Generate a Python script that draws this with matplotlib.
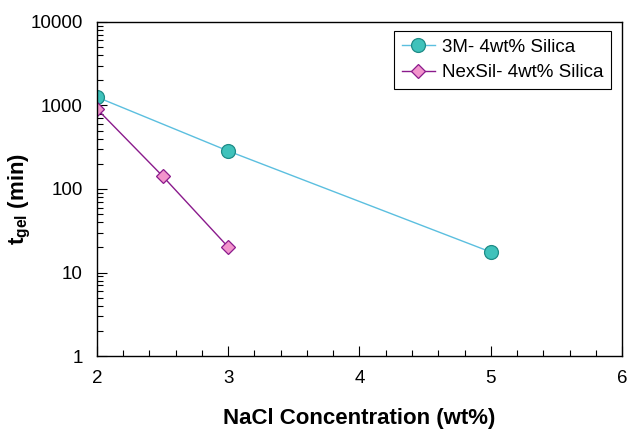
import numpy as np
import matplotlib.pyplot as plt
from matplotlib.ticker import MultipleLocator, LogLocator, NullFormatter, FixedLocator

plt.rcParams['font.family'] = ['Liberation Sans', 'DejaVu Sans']
plt.rcParams['mathtext.fontset'] = 'custom'
plt.rcParams['mathtext.rm'] = 'Liberation Sans'
plt.rcParams['mathtext.bf'] = 'Liberation Sans:bold'

# data
nacl_3m = [2, 3, 5]
tgel_3m = [1260, 285, 17.6]
nacl_nexsil = [2, 2.5, 3]
tgel_nexsil = [910, 143, 20.2]

labels = ["3M- 4wt% Silica", "NexSil- 4wt% Silica"]
yticks = [1, 10, 100, 1000, 10000]

fig = plt.figure(figsize=(6.29, 4.29), dpi=100)
ax = fig.add_axes([0.154, 0.170, 0.835, 0.779])

ax.plot(nacl_3m, tgel_3m, color="#5bbfdf", lw=1.0, marker="o", ms=10,
        mfc="#3fc2bb", mec="#1f8c87", mew=0.9, label=labels[0])
ax.plot(nacl_nexsil, tgel_nexsil, color="#8a1a8c", lw=1.0, marker="D", ms=7.5,
        mfc="#f294cc", mec="#8a1a8c", mew=0.9, label=labels[1])

ax.set_yscale("log")
ax.set_xlim(2, 6)
ax.set_ylim(1, 10000)
ax.xaxis.set_major_locator(MultipleLocator(1))
ax.xaxis.set_minor_locator(MultipleLocator(0.2))
ax.yaxis.set_major_locator(FixedLocator(yticks))
ax.set_yticklabels([str(v) for v in yticks])
ax.yaxis.set_minor_locator(LogLocator(base=10, subs=np.arange(2, 10)))
ax.yaxis.set_minor_formatter(NullFormatter())

ax.tick_params(which="both", direction="in", top=False, right=False,
               labelsize=13.5, width=0.8)
ax.tick_params(which="major", length=7)
ax.tick_params(which="minor", length=4)
ax.tick_params(axis="y", which="major", pad=10)
ax.tick_params(axis="x", which="major", pad=10)
for s in ax.spines.values():
    s.set_linewidth(1.0)

ax.set_xlabel("NaCl Concentration (wt%)", fontsize=16, fontweight="bold", labelpad=15)
ax.set_ylabel(r"$\mathbf{t_{gel}}$ (min)", fontsize=16, fontweight="bold")
ax.yaxis.set_label_coords(-0.122, 0.47)

leg = ax.legend(loc="upper right", bbox_to_anchor=(0.979, 0.973), fontsize=13.5,
                fancybox=False, edgecolor="black", framealpha=1,
                handlelength=1.75, handletextpad=0.4, borderpad=0.4,
                labelspacing=0.45, borderaxespad=0)
leg.get_frame().set_linewidth(0.8)

fig.savefig("out.png", dpi=100)
